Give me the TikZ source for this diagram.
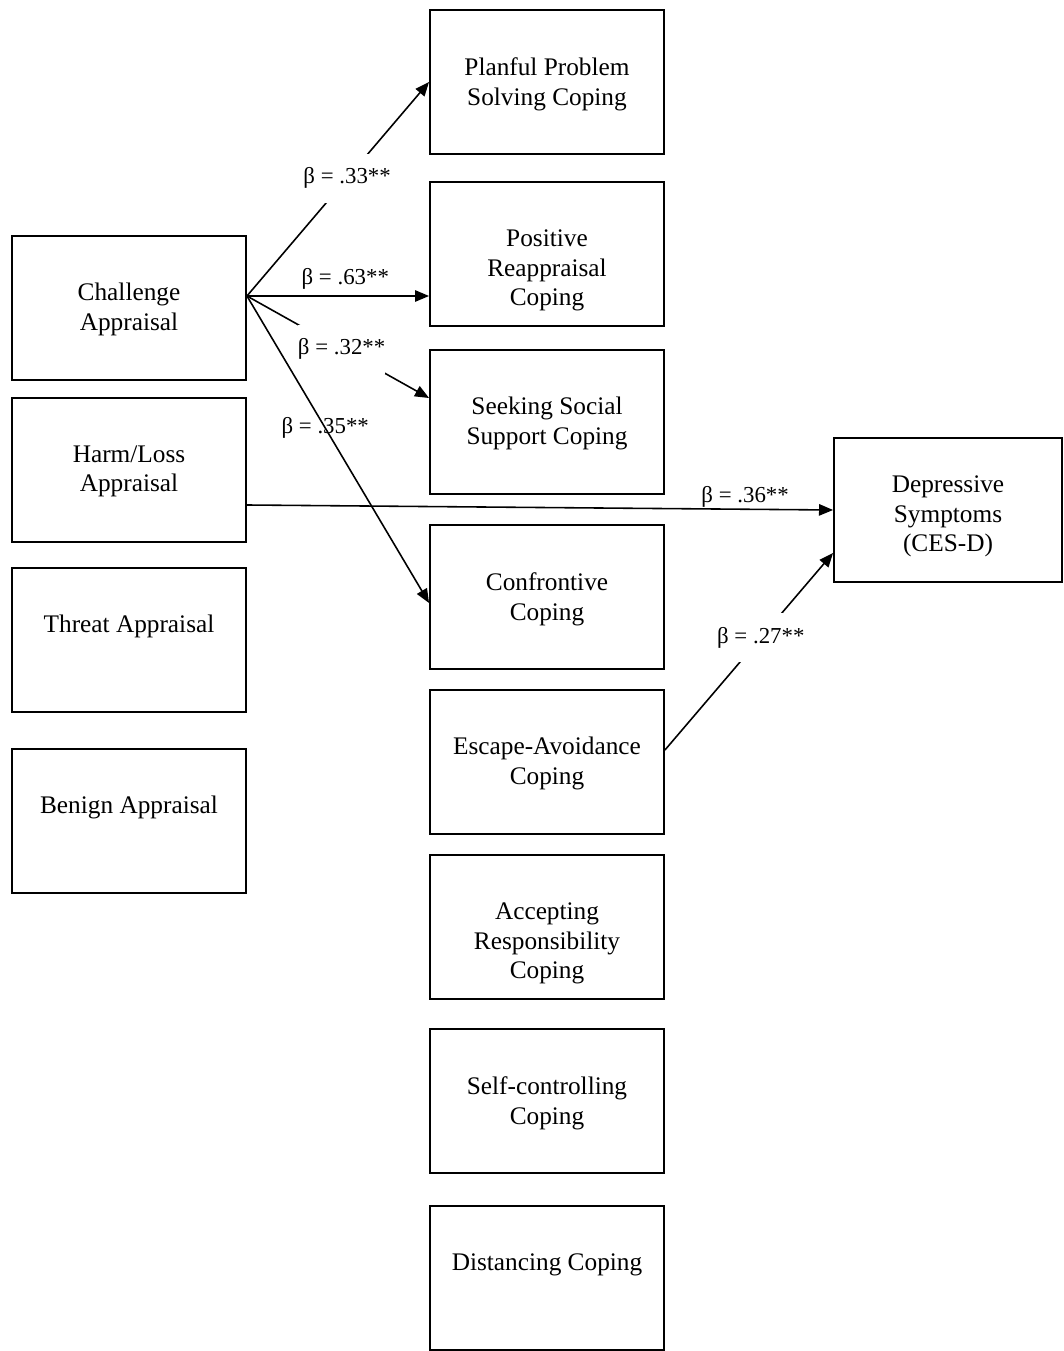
\documentclass[tikz,border=0pt]{standalone}
\usepackage{fontspec}
\setmainfont{Liberation Serif}
\usetikzlibrary{arrows.meta, positioning}

\begin{document}
\begin{tikzpicture}[x=0.02cm, y=-0.02cm,
  box/.style={rectangle, draw, line width=1.1pt, minimum width=4.68cm, minimum height=2.88cm, inner sep=0pt},
  txt/.style={align=center, inner sep=0pt, font=\fontsize{14.4}{17}\selectfont},
  arr/.style={-{Triangle[length=8pt, width=6.5pt]}, line width=0.9pt},
  coef/.style={font=\fontsize{13}{15}\selectfont},
  gap/.style={coef, fill=white, inner xsep=0pt, inner ysep=8pt}]

  \useasboundingbox (0,0) rectangle (1063,1351);

  % appraisals
  \node[box] (chal) at (129,308) {};
  \node[box] (harm) at (129,470) {};
  \node[box] (threat) at (129,640) {};
  \node[box] (benign) at (129,821) {};
  \node[txt, below=0.96cm of chal.north] (chal-t) {Challenge\\Appraisal};
  \node[txt, below=0.96cm of harm.north] (harm-t) {Harm/Loss\\Appraisal};
  \node[txt, below=0.96cm of threat.north] (threat-t) {Threat Appraisal};
  \node[txt, below=0.96cm of benign.north] (benign-t) {Benign Appraisal};

  % coping
  \node[box] (plan) at (547,82) {};
  \node[box] (pos) at (547,254) {};
  \node[box] (seek) at (547,422) {};
  \node[box] (conf) at (547,597) {};
  \node[box] (esc) at (547,762) {};
  \node[box] (acc) at (547,927) {};
  \node[box] (selfc) at (547,1101) {};
  \node[box] (dist) at (547,1278) {};
  \node[txt, below=0.96cm of plan.north] (plan-t) {Planful Problem\\Solving Coping};
  \node[txt, below=0.96cm of pos.north] (pos-t) {Positive\\Reappraisal\\Coping};
  \node[txt, below=0.96cm of seek.north] (seek-t) {Seeking Social\\Support Coping};
  \node[txt, below=0.96cm of conf.north] (conf-t) {Confrontive\\Coping};
  \node[txt, below=0.96cm of esc.north] (esc-t) {Escape-Avoidance\\Coping};
  \node[txt, below=0.96cm of acc.north] (acc-t) {Accepting\\Responsibility\\Coping};
  \node[txt, below=0.96cm of selfc.north] (selfc-t) {Self-controlling\\Coping};
  \node[txt, below=0.96cm of dist.north] (dist-t) {Distancing Coping};

  % outcome
  \node[box, minimum width=4.56cm] (dep) at (948,510) {};
  \node[txt, below=0.76cm of dep.north] (dep-t) {Depressive\\Symptoms\\(CES-D)};

  % paths
  \coordinate (chal-out) at ([yshift=0.24cm]chal.east);
  \draw[arr] (chal-out) -- (plan.west) node[gap, pos=0.55] (b33) {β = .33**};
  \draw[arr] (chal-out) -- (chal-out -| pos.west) node[coef, pos=0.54, above=0pt] (b63) {β = .63**};
  \draw[arr] (chal-out) -- ([yshift=0.48cm]seek.west) node[gap, pos=0.52] (b32) {β = .32**};
  \draw[arr] (chal-out) -- ([yshift=-0.12cm]conf.west) node[coef, pos=0.43] (b35) {β = .35**};
  \draw[arr] ([yshift=-0.7cm]harm.east) -- (dep.west) node[coef, pos=0.85, above=-2.5pt] (b36) {β = .36**};
  \draw[arr] ([yshift=0.24cm]esc.east) -- ([yshift=-0.86cm]dep.west) node[gap, pos=0.57] (b27) {β = .27**};
\end{tikzpicture}
\end{document}
